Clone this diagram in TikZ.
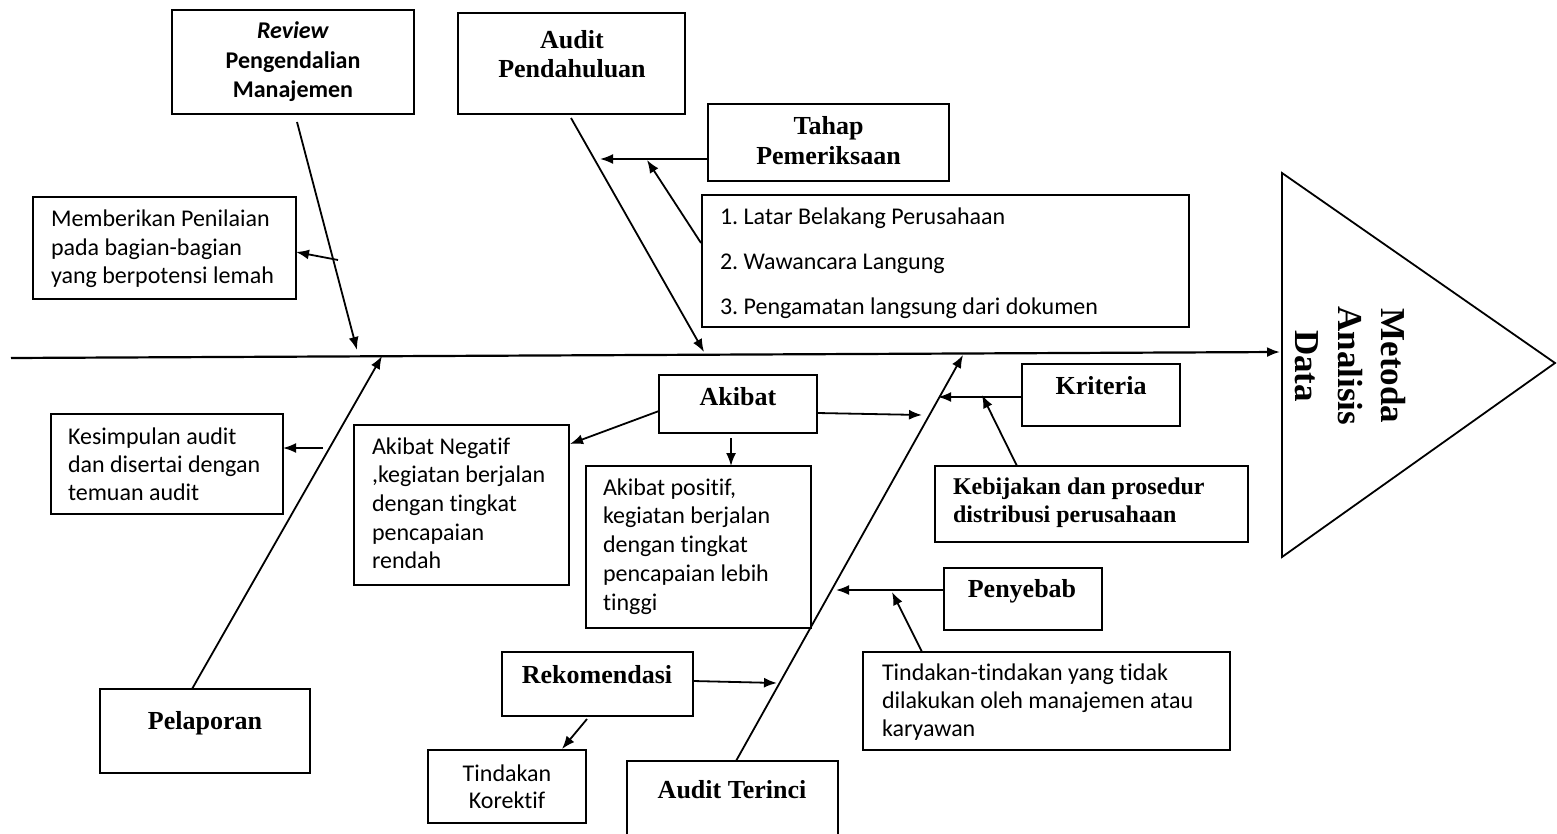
\documentclass[tikz,border=0pt]{standalone}
\usepackage{fontspec}
\setmainfont{Liberation Serif}
\newfontfamily\calfont[Ligatures=NoCommon]{Carlito}
\usetikzlibrary{arrows.meta}
\frenchspacing
\tikzset{
  box/.style={draw, line width=1.8pt, inner sep=0pt, outer sep=0pt},
  arr/.style={line width=1.8pt, -{Latex[length=13pt,width=10pt]}},
  spine/.style={line width=2.2pt, -{Latex[length=13pt,width=10pt]}},
  tx/.style={inner sep=0pt, outer sep=0pt},
  cal/.style={tx, font=\calfont\fontsize{24}{28.5}\selectfont},
  tim/.style={tx, font=\bfseries\fontsize{26}{29}\selectfont}
}
\begin{document}
\begin{tikzpicture}[x=1pt,y=-1pt]
\useasboundingbox (0,0) rectangle (1557,834);
% boxes
\node[box, minimum width=242, minimum height=104] (review) at (293,62) {};
\node[box, minimum width=227, minimum height=101] (auditp) at (571.5,63.5) {};
\node[box, minimum width=241, minimum height=77] (tahap) at (828.5,142.5) {};
\node[box, minimum width=487, minimum height=132] (list) at (945.5,261) {};
\node[box, minimum width=263, minimum height=102] (memb) at (164.5,248) {};
\node[box, minimum width=232, minimum height=100] (kesim) at (167,464) {};
\node[box, minimum width=158, minimum height=58] (akibat) at (738,404) {};
\node[box, minimum width=215, minimum height=160] (neg) at (461.5,505) {};
\node[box, minimum width=225, minimum height=162] (pos) at (698.5,547) {};
\node[box, minimum width=158, minimum height=62] (kriteria) at (1101,395) {};
\node[box, minimum width=313, minimum height=76] (kebij) at (1091.5,504) {};
\node[box, minimum width=158, minimum height=62] (penyebab) at (1023,599) {};
\node[box, minimum width=367, minimum height=98] (tindakan) at (1046.5,701) {};
\node[box, minimum width=210, minimum height=84] (pelaporan) at (205,731) {};
\node[box, minimum width=191, minimum height=64] (rekom) at (597.5,684) {};
\node[box, minimum width=158, minimum height=73] (korektif) at (507,786.5) {};
\node[box, minimum width=211, minimum height=75] (terinci) at (732.5,798.5) {};
% head triangle
\draw[line width=1.8pt, line join=miter] (1282,173) -- (1282,557) -- (1555,363) -- cycle;
\node[tx, rotate=-90, align=center, font=\bfseries\fontsize{35}{43}\selectfont] (metoda) at (1350,366) {Metoda\\Analisis\\Data};
% texts
\node[cal, anchor=base, font=\calfont\bfseries\fontsize{24}{29.5}\selectfont] (treview) at (293,39) {\parbox[t]{240pt}{\centering\textit{Review}\\Pengendalian\\Manajemen}};
\node[tim, anchor=base] (tauditp) at (572,49) {\parbox[t]{220pt}{\centering Audit\\Pendahuluan}};
\node[tim, anchor=base, font=\bfseries\fontsize{26}{30}\selectfont] (ttahap) at (828.5,135) {\parbox[t]{230pt}{\centering Tahap\\Pemeriksaan}};
\node[cal, anchor=base west, font=\calfont\fontsize{24}{45}\selectfont] (tlist) at (720,225) {\parbox[t]{470pt}{1. Latar Belakang Perusahaan\\2. Wawancara Langung\\3. Pengamatan langsung dari dokumen}};
\node[cal, anchor=base west] (tmemb) at (51,227) {\parbox[t]{250pt}{Memberikan Penilaian\\pada bagian-bagian\\yang berpotensi lemah}};
\node[cal, anchor=base west, font=\calfont\fontsize{24}{28}\selectfont] (tkesim) at (68,444) {\parbox[t]{220pt}{Kesimpulan audit\\dan disertai dengan\\temuan audit}};
\node[tim, anchor=base] (takibat) at (738,405) {Akibat};
\node[cal, anchor=base west, font=\calfont\fontsize{24}{28.7}\selectfont] (tneg) at (372,454) {\parbox[t]{200pt}{Akibat Negatif\\,kegiatan berjalan\\dengan tingkat\\pencapaian\\rendah}};
\node[cal, anchor=base west, font=\calfont\fontsize{24}{28.8}\selectfont] (tpos) at (603,495) {\parbox[t]{210pt}{Akibat positif,\\kegiatan berjalan\\dengan tingkat\\pencapaian lebih\\tinggi}};
\node[tim, anchor=base] (tkriteria) at (1101,394) {Kriteria};
\node[tim, anchor=base west, font=\bfseries\fontsize{24}{28}\selectfont] (tkebij) at (953,494) {\parbox[t]{300pt}{Kebijakan dan prosedur\\distribusi perusahaan}};
\node[tim, anchor=base] (tpenyebab) at (1022,597) {Penyebab};
\node[cal, anchor=base west, font=\calfont\fontsize{24}{28}\selectfont] (ttindakan) at (882,680) {\parbox[t]{350pt}{Tindakan-tindakan yang tidak\\dilakukan oleh manajemen atau\\karyawan}};
\node[tim, anchor=base] (tpelaporan) at (205,729) {Pelaporan};
\node[tim, anchor=base] (trekom) at (597,683) {Rekomendasi};
\node[cal, anchor=base, font=\calfont\fontsize{24}{27}\selectfont] (tkorektif) at (507,781) {\parbox[t]{150pt}{\centering Tindakan\\Korektif}};
\node[tim, anchor=base] (tterinci) at (732,798) {Audit Terinci};
% coordinates
\coordinate (sp0) at (11,358);
\coordinate (sp1) at (1280,352);
\coordinate (rvS) at (297,122);
\coordinate (rvT) at (357,350);
\coordinate (apS) at (571,118);
\coordinate (apT) at (704,352);
\coordinate (plS) at (192,689);
\coordinate (plT) at (382,356);
\coordinate (atS) at (736,761);
\coordinate (atT) at (963,355);
\coordinate (thS) at (708,159);
\coordinate (thT) at (600,159);
\coordinate (lsS) at (701,243);
\coordinate (lsT) at (647,160);
\coordinate (mbS) at (338,260);
\coordinate (mbT) at (296,252);
\coordinate (ksS) at (323,448);
\coordinate (ksT) at (283,448);
\coordinate (akN) at (659,411);
\coordinate (ngT) at (570,444);
\coordinate (akD) at (731,438);
\coordinate (psT) at (731,466);
\coordinate (akR) at (817,413);
\coordinate (akRT) at (922,415);
\coordinate (krS) at (1022,397);
\coordinate (krT) at (938,397);
\coordinate (kbS) at (1017,466);
\coordinate (kbT) at (982,395);
\coordinate (pyS) at (944,590);
\coordinate (pyT) at (836,590);
\coordinate (tdS) at (922,652);
\coordinate (tdT) at (892,592);
\coordinate (rkS) at (693,681);
\coordinate (rkT) at (777,683);
\coordinate (rkD) at (587,719);
\coordinate (koT) at (562,749);
% spine and bones
\draw[spine] (sp0) -- (sp1);
\draw[arr] (rvS) -- (rvT);
\draw[arr] (apS) -- (apT);
\draw[arr] (plS) -- (plT);
\draw[arr] (atS) -- (atT);
% sub arrows
\draw[arr] (thS) -- (thT);
\draw[arr] (lsS) -- (lsT);
\draw[arr] (mbS) -- (mbT);
\draw[arr] (ksS) -- (ksT);
\draw[arr] (akN) -- (ngT);
\draw[arr] (akD) -- (psT);
\draw[arr] (akR) -- (akRT);
\draw[arr] (krS) -- (krT);
\draw[arr] (kbS) -- (kbT);
\draw[arr] (pyS) -- (pyT);
\draw[arr] (tdS) -- (tdT);
\draw[arr] (rkS) -- (rkT);
\draw[arr] (rkD) -- (koT);
\end{tikzpicture}
\end{document}
